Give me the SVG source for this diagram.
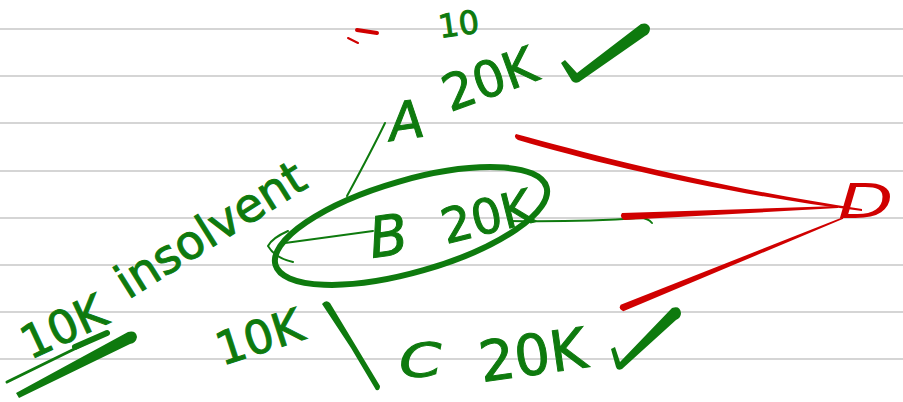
<svg xmlns="http://www.w3.org/2000/svg" width="903" height="402" viewBox="0 0 903 402">
<style>
.rule{stroke:#d5d5d5;stroke-width:2}
.g{fill:#0e7a0e;stroke:#0e7a0e;stroke-width:1;font-family:"DejaVu Sans","Liberation Sans",sans-serif}
.r{fill:#d00000;font-family:"DejaVu Sans","Liberation Sans",sans-serif}
.gs{fill:none;stroke:#0e7a0e;stroke-linecap:round;stroke-linejoin:round}
.rs{fill:none;stroke:#d00000;stroke-linecap:round;stroke-linejoin:round}
.gf{fill:#0e7a0e}
.rf{fill:#d00000}
</style>
<rect width="903" height="402" fill="#ffffff"/>
<g id="ruling">
<line class="rule" x1="0" y1="29" x2="903" y2="29"/>
<line class="rule" x1="0" y1="76" x2="903" y2="76"/>
<line class="rule" x1="0" y1="123" x2="903" y2="123"/>
<line class="rule" x1="0" y1="171" x2="903" y2="171"/>
<line class="rule" x1="0" y1="218" x2="903" y2="218"/>
<line class="rule" x1="0" y1="265" x2="903" y2="265"/>
<line class="rule" x1="0" y1="312" x2="903" y2="312"/>
<line class="rule" x1="0" y1="359" x2="903" y2="359"/>
</g>
<g id="marks-top">
<path class="rs" d="M357,30 L377,33" stroke-width="4"/>
<path class="rs" d="M348,38 L358,43" stroke-width="2"/>
<text class="g" font-size="32" transform="translate(440,38) rotate(-8)">10</text>
</g>
<g id="node-A">
<text class="g" font-size="52" font-style="italic" stroke-width="0" transform="translate(391,141) rotate(-8)">A</text>
<text class="g" font-size="50" transform="translate(450,112) rotate(-20)">20K</text>
<path class="gf" d="M561,63 L565,60 L577,73 L641,24 Q648,22 650,28 Q650,34 645,36 L579,82 Q575,84 572,81 Z"/>
</g>
<g id="node-B">
<ellipse cx="411" cy="226" rx="141" ry="46" transform="rotate(-16 411 226)" fill="none" stroke="#0e7a0e" stroke-width="6"/>
<text class="g" font-size="56" font-style="italic" stroke-width="0" transform="translate(372,258) rotate(-8)">B</text>
<text class="g" font-size="48" transform="translate(446,244) rotate(-14)">20K</text>
</g>
<g id="note-insolvent">
<text class="g" font-size="47" stroke-width="0" transform="translate(128,300) rotate(-32)">insolvent</text>
<text class="g" font-size="46" transform="translate(222,366) rotate(-18)">10K</text>
</g>
<g id="note-10K">
<text class="g" font-size="46" transform="translate(30,360) rotate(-25)">10K</text>
<path class="gs" d="M7,382 L107,333" stroke-width="3"/>
<path class="gs" d="M75,347 L107,333" stroke-width="6"/>
<path class="gf" d="M16,393 L128,332 Q136,330 137,337 Q136,343 130,344 L19,398 Z"/>
</g>
<g id="node-C">
<path class="gf" d="M322,304 Q326,299 330,303 L380,386 Q380,391 376,390 L351,348 Z"/>
<text class="g" font-size="46" font-style="italic" stroke-width="0" transform="translate(400,378) rotate(-4) scale(1.35,1)">C</text>
<text class="g" font-size="56" transform="translate(482,382) rotate(-8)">20K</text>
<path class="gf" d="M611,349 L615,347 L620,362 L672,308 Q680,305 681,313 Q681,318 676,320 L622,369 Q617,371 616,367 Z"/>
</g>
<g id="node-D">
<text class="r" font-size="48" font-style="italic" transform="translate(838,218) scale(1.5,1)">D</text>
</g>
<g id="connectors">
<path class="gs" d="M385,123 Q372,150 347,196" stroke-width="2"/>
<path class="gs" d="M373,231 L285,243" stroke-width="2"/>
<path class="gs" d="M288,231 Q272,238 268,246 Q275,258 293,262" stroke-width="2"/>
<path class="gs" d="M510,221 Q580,222 640,218 Q648,218 652,223" stroke-width="2"/>
<path class="rf" d="M516,134 C600,157 720,188 862,209 L862,211 C720,193 600,164 518,140 Q513,137 516,134 Z"/>
<path class="rf" d="M622,213 L838,206 L838,208 L624,220 Q619,217 622,213 Z"/>
<path class="rf" d="M620.7,304.7 L842.7,217.3 L843.3,218.7 L623.3,311.3 Q618,309 620.7,304.7 Z"/>
</g>
</svg>
